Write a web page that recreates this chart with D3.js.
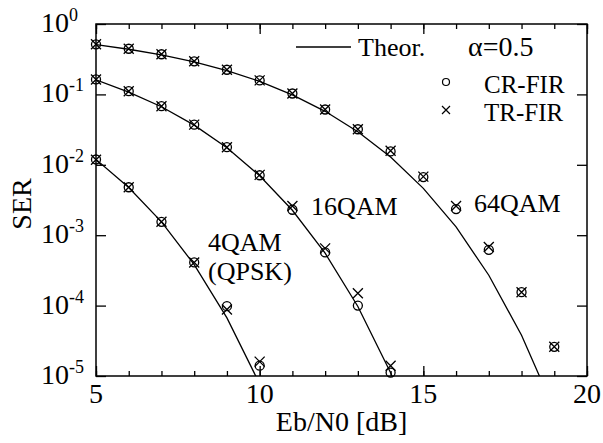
<!DOCTYPE html>
<html>
<head>
<meta charset="utf-8">
<script src="https://cdn.jsdelivr.net/npm/d3@7/dist/d3.min.js"></script>
<style>
  html, body { margin: 0; padding: 0; background: #fff; }
  svg { display: block; }
  svg text { font-family: 'Liberation Serif', 'DejaVu Serif', serif; }
</style>
</head>
<body>
<svg id="chart" width="603" height="443"></svg>
<script>
// ---- data ----
const qpskX = [5, 6, 7, 8, 9, 10];
const qpskTheory = [1.19e-2, 4.77e-3, 1.55e-3, 3.82e-4, 6.7e-5, 7.7e-6];
const qpskCR = [1.19e-2, 4.8e-3, 1.55e-3, 4.1e-4, 9.8e-5, 1.4e-5];
const qpskTR = [1.18e-2, 4.8e-3, 1.55e-3, 4.1e-4, 8.8e-5, 1.6e-5];

const qam16X = [5, 6, 7, 8, 9, 10, 11, 12, 13, 14];
const qam16TheoryX = [5, 6, 7, 8, 9, 10, 11, 12, 13, 14, 15];
const qam16Theory = [0.161, 0.108, 0.0668, 0.0366, 0.0175, 7.0e-3, 2.26e-3, 5.55e-4, 9.7e-5, 1.11e-5, 8.5e-7];
const qam16CR = [0.163, 0.111, 0.068, 0.0372, 0.0178, 7.1e-3, 2.3e-3, 5.7e-4, 1.0e-4, 1.12e-5];
const qam16TR = [0.163, 0.111, 0.068, 0.0372, 0.0178, 7.2e-3, 2.6e-3, 6.5e-4, 1.5e-4, 1.4e-5];

const qam64X = [5, 6, 7, 8, 9, 10, 11, 12, 13, 14, 15, 16, 17, 18, 19];
const qam64Theory = [0.509, 0.438, 0.364, 0.289, 0.218, 0.153, 0.0987, 0.0575, 0.0295, 0.0129, 4.63e-3, 1.31e-3, 2.7e-4, 3.8e-5, 3.3e-6];
const qam64CR = [0.515, 0.445, 0.372, 0.295, 0.224, 0.158, 0.103, 0.061, 0.032, 0.0155, 6.7e-3, 2.35e-3, 6.2e-4, 1.55e-4, 2.6e-5];
const qam64TR = [0.515, 0.445, 0.372, 0.295, 0.224, 0.158, 0.103, 0.061, 0.032, 0.0158, 6.8e-3, 2.6e-3, 6.8e-4, 1.55e-4, 2.6e-5];

const xTicks = [5, 6, 7, 8, 9, 10, 11, 12, 13, 14, 15, 16, 17, 18, 19, 20];
const xMajor = [5, 10, 15, 20];
const yTickExp = [0, -1, -2, -3, -4, -5];

const xLabel = "Eb/N0 [dB]";
const yLabel = "SER";
const legendLine = "Theor.";
const legendCR = "CR-FIR";
const legendTR = "TR-FIR";
const alphaText = "\u03B1=0.5";
const curveLabels = [
  { text: "4QAM", x: 208, y: 251 },
  { text: "(QPSK)", x: 208, y: 280 },
  { text: "16QAM", x: 311, y: 215 },
  { text: "64QAM", x: 474, y: 212 }
];

// ---- layout ----
const FONT = "'Liberation Serif', 'DejaVu Serif', serif";
const L = 96, R = 587, T = 24, B = 376;
const svg = d3.select("#chart");
const x = d3.scaleLinear().domain([5, 20]).range([L, R]);
const y = d3.scaleLog().domain([1e-5, 1]).range([B, T]);

svg.append("defs").append("clipPath").attr("id", "clip")
  .append("rect").attr("x", L).attr("y", T).attr("width", R - L).attr("height", B - T);

function styleAxis(g) {
  g.select(".domain").remove();
  g.selectAll(".tick line").attr("stroke", "#000").attr("stroke-width", 1.3);
  g.selectAll(".tick text").remove();
}

// ticks (inward)
svg.append("g").attr("transform", `translate(0,${B})`)
  .call(d3.axisBottom(x).tickValues(xTicks).tickSize(-5)).call(styleAxis);
svg.append("g").attr("transform", `translate(0,${B})`)
  .call(d3.axisBottom(x).tickValues(xMajor).tickSize(-10)).call(styleAxis);
svg.append("g").attr("transform", `translate(0,${T})`)
  .call(d3.axisTop(x).tickValues(xTicks).tickSize(-5)).call(styleAxis);
svg.append("g").attr("transform", `translate(0,${T})`)
  .call(d3.axisTop(x).tickValues(xMajor).tickSize(-10)).call(styleAxis);
const yVals = yTickExp.map(e => Math.pow(10, e));
svg.append("g").attr("transform", `translate(${L},0)`)
  .call(d3.axisLeft(y).tickValues(yVals).tickSize(-10)).call(styleAxis);
svg.append("g").attr("transform", `translate(${R},0)`)
  .call(d3.axisRight(y).tickValues(yVals).tickSize(-10)).call(styleAxis);

// frame
svg.append("rect").attr("x", L).attr("y", T).attr("width", R - L).attr("height", B - T)
  .attr("fill", "none").attr("stroke", "#000").attr("stroke-width", 1.5);

const txt = (sel) => sel.attr("font-family", FONT).attr("fill", "#000");

// x tick labels
svg.append("g").selectAll("text").data(xMajor).join("text").call(txt)
  .attr("x", d => x(d)).attr("y", 403)
  .attr("text-anchor", "middle").attr("font-size", 28).text(d => d);

// y tick labels with superscripts
const yl = svg.append("g").selectAll("text").data(yTickExp).join("text").call(txt)
  .attr("x", 41).attr("y", d => y(Math.pow(10, d)) + 8).attr("font-size", 28);
yl.append("tspan").text("10");
yl.append("tspan").attr("font-size", 18).attr("dy", -11).text(d => d);

// axis titles
svg.append("text").call(txt).attr("x", (L + R) / 2).attr("y", 431).attr("text-anchor", "middle")
  .attr("font-size", 28).text(xLabel);
svg.append("text").call(txt).attr("transform", "translate(31,204) rotate(-90)").attr("text-anchor", "middle")
  .attr("font-size", 28).text(yLabel);

// lines
const plot = svg.append("g").attr("clip-path", "url(#clip)");
const line = d3.line().x(d => x(d[0])).y(d => y(d[1]));
const theorySets = [
  d3.zip(qpskX, qpskTheory),
  d3.zip(qam16TheoryX, qam16Theory),
  d3.zip(qam64X, qam64Theory)
];
plot.selectAll("path.theory").data(theorySets).join("path").attr("class", "theory")
  .attr("d", line).attr("fill", "none").attr("stroke", "#000").attr("stroke-width", 1.3);

// markers
const crSets = [d3.zip(qpskX, qpskCR), d3.zip(qam16X, qam16CR), d3.zip(qam64X, qam64CR)].flat();
const trSets = [d3.zip(qpskX, qpskTR), d3.zip(qam16X, qam16TR), d3.zip(qam64X, qam64TR)].flat();
const mk = svg.append("g");
mk.selectAll("circle").data(crSets).join("circle")
  .attr("cx", d => x(d[0])).attr("cy", d => y(d[1])).attr("r", 4.5)
  .attr("fill", "none").attr("stroke", "#000").attr("stroke-width", 1.3);
const cs = 5;
mk.selectAll("path.cross").data(trSets).join("path").attr("class", "cross")
  .attr("d", d => {
    const cx = x(d[0]), cy = y(d[1]);
    return `M${cx - cs},${cy - cs}L${cx + cs},${cy + cs}M${cx - cs},${cy + cs}L${cx + cs},${cy - cs}`;
  })
  .attr("fill", "none").attr("stroke", "#000").attr("stroke-width", 1.3);

// curve labels
svg.append("g").selectAll("text").data(curveLabels).join("text").call(txt)
  .attr("x", d => d.x).attr("y", d => d.y).attr("font-size", 26).text(d => d.text);

// legend
const lg = svg.append("g");
lg.append("line").attr("x1", 296).attr("x2", 351).attr("y1", 47).attr("y2", 47)
  .attr("stroke", "#000").attr("stroke-width", 1.3);
lg.append("text").call(txt).attr("x", 358).attr("y", 56).attr("font-size", 26).text(legendLine);
lg.append("text").call(txt).attr("x", 468).attr("y", 56).attr("font-size", 28).text(alphaText);
lg.append("circle").attr("cx", 446).attr("cy", 82).attr("r", 3.5)
  .attr("fill", "none").attr("stroke", "#000").attr("stroke-width", 1.2);
lg.append("path").attr("d", "M442,106L450,114M442,114L450,106")
  .attr("fill", "none").attr("stroke", "#000").attr("stroke-width", 1.2);
lg.append("text").call(txt).attr("x", 484).attr("y", 93).attr("font-size", 25).text(legendCR);
lg.append("text").call(txt).attr("x", 484).attr("y", 121).attr("font-size", 25).text(legendTR);
</script>
</body>
</html>
